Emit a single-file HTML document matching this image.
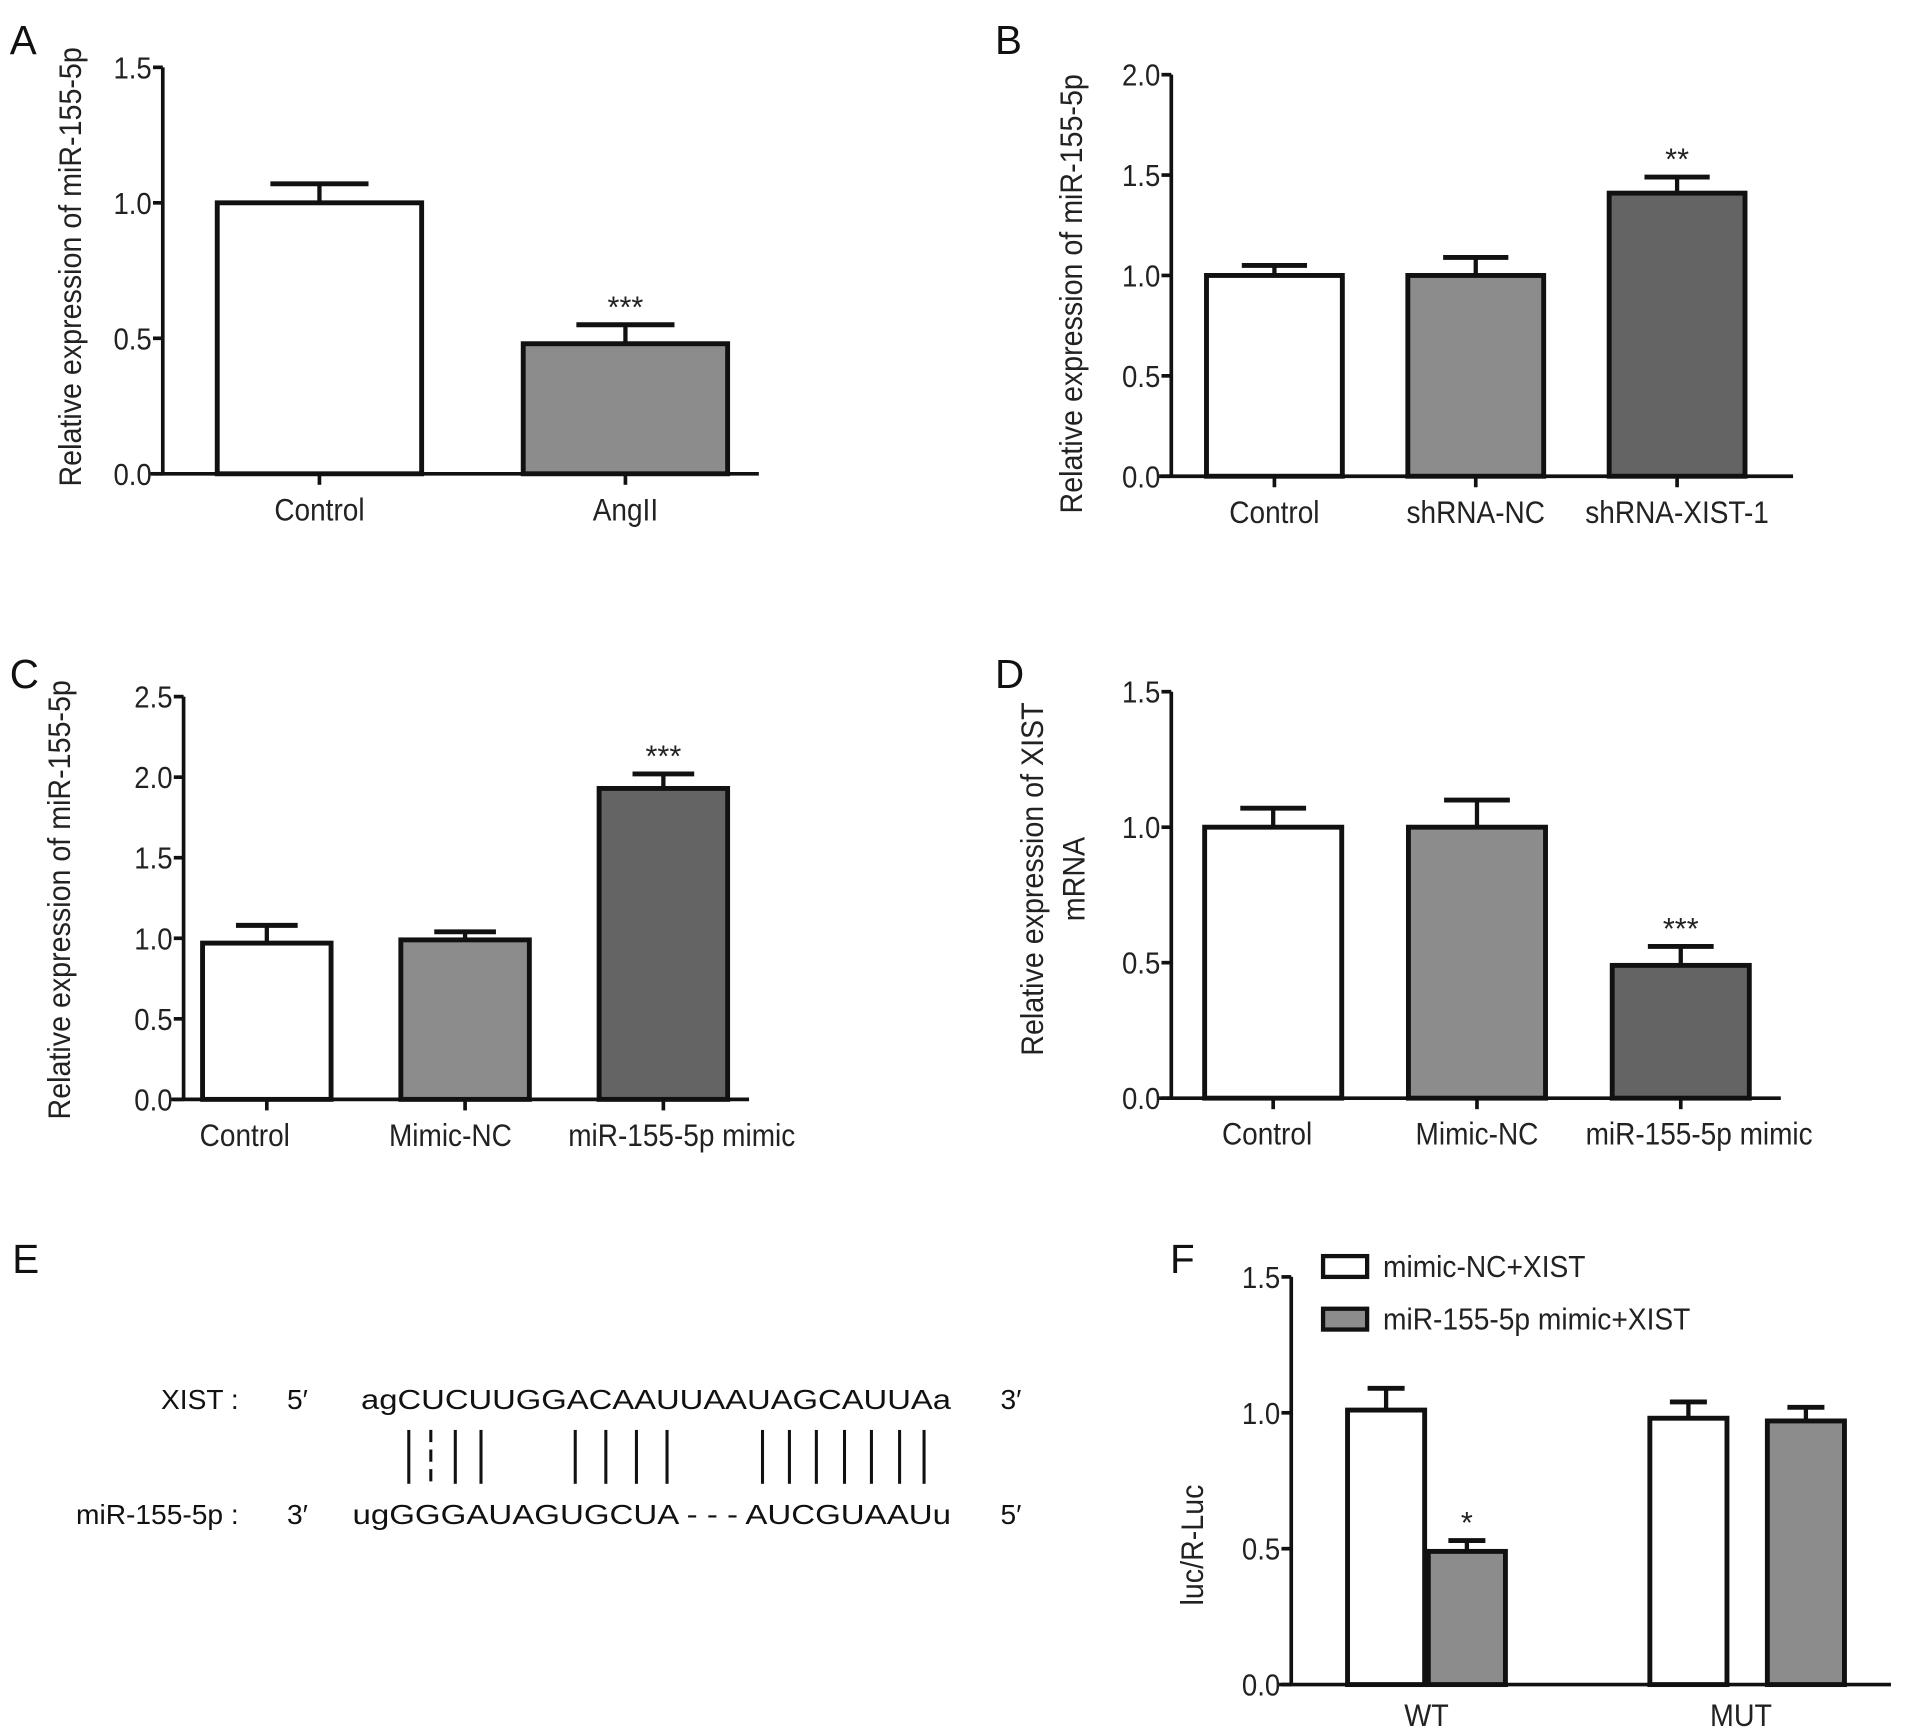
<!DOCTYPE html>
<html><head><meta charset="utf-8">
<style>
html,body{margin:0;padding:0;background:#fff;}
svg{display:block;font-family:"Liberation Sans",Arial,sans-serif;}
</style></head>
<body>
<svg id="fig" width="1913" height="1736" viewBox="0 0 1563 1418" preserveAspectRatio="none" xmlns="http://www.w3.org/2000/svg">
<g id="panelE" font-size="23" fill="#111">
  <text x="10" y="1040" font-size="33">E</text>
  <text x="195" y="1151" text-anchor="end">XIST :</text>
  <text x="243" y="1151" text-anchor="middle">5′</text>
  <text x="295" y="1151" textLength="482" lengthAdjust="spacingAndGlyphs">agCUCUUGGACAAUUAAUAGCAUUAa</text>
  <text x="826" y="1151" text-anchor="middle">3′</text>
  <text x="195" y="1245" text-anchor="end">miR-155-5p :</text>
  <text x="243" y="1245" text-anchor="middle">3′</text>
  <text x="288" y="1245" textLength="489" lengthAdjust="spacingAndGlyphs">ugGGGAUAGUGCUA - - - AUCGUAAUu</text>
  <text x="826" y="1245" text-anchor="middle">5′</text>
  <g id="pairs" stroke="#111" stroke-width="2.5"></g>
</g>
</svg>
<script>
// ---- data ----
const aCats = ["Control", "AngII"];
const aVals = [1.0, 0.48];
const aErrs = [0.07, 0.07];
const aStars = ["", "***"];
const aTicks = ["0.0", "0.5", "1.0", "1.5"];

const bCats = ["Control", "shRNA-NC", "shRNA-XIST-1"];
const bVals = [1.0, 1.0, 1.41];
const bErrs = [0.05, 0.09, 0.08];
const bStars = ["", "", "**"];
const bTicks = ["0.0", "0.5", "1.0", "1.5", "2.0"];

const cCats = ["Control", "Mimic-NC", "miR-155-5p mimic"];
const cVals = [0.97, 0.99, 1.93];
const cErrs = [0.11, 0.05, 0.09];
const cStars = ["", "", "***"];
const cTicks = ["0.0", "0.5", "1.0", "1.5", "2.0", "2.5"];

const dCats = ["Control", "Mimic-NC", "miR-155-5p mimic"];
const dVals = [1.0, 1.0, 0.49];
const dErrs = [0.07, 0.1, 0.07];
const dStars = ["", "", "***"];
const dTicks = ["0.0", "0.5", "1.0", "1.5"];

const fGroups = ["WT", "MUT"];
const fSeries = ["mimic-NC+XIST", "miR-155-5p mimic+XIST"];
const fNC = [1.01, 0.98];
const fNCErr = [0.08, 0.06];
const fMimic = [0.49, 0.97];
const fMimicErr = [0.04, 0.05];
const fStars = ["*", ""];
const fTicks = ["0.0", "0.5", "1.0", "1.5"];

const fills = ["#ffffff", "#8c8c8c", "#646464"];
const NS = "http://www.w3.org/2000/svg";
const svg = document.getElementById("fig");

function mk(tag, attrs, parent, text) {
  const e = document.createElementNS(NS, tag);
  for (const k in attrs) e.setAttribute(k, attrs[k]);
  if (text !== undefined) e.textContent = text;
  (parent || svg).appendChild(e);
  return e;
}
function condense(t, f) {
  const L = t.getComputedTextLength();
  if (L > 0) {
    t.setAttribute("textLength", (L * f).toFixed(1));
    t.setAttribute("lengthAdjust", "spacingAndGlyphs");
  }
  return t;
}

function axes(g, cfg, y) {
  const ax = mk("line", {x1: cfg.ax, y1: cfg.yTop, x2: cfg.ax, y2: cfg.y0, stroke: "#111", "stroke-width": 3}, g);
  
  
  const xa = mk("line", {x1: cfg.ax - 10, y1: cfg.y0, x2: cfg.axR, y2: cfg.y0, stroke: "#111", "stroke-width": 3}, g);
  
  
  cfg.ticks.forEach(t => {
    const yy = y(parseFloat(t));
    const tk = mk("line", {x1: cfg.ax - 8, y1: yy, x2: cfg.ax, y2: yy, stroke: "#111", "stroke-width": 3}, g);
    
    
    const tl = mk("text", {x: cfg.ax - 9, y: yy + 9, "text-anchor": "end", "font-size": 25, fill: "#222"}, g, t);
    
    
    condense(tl, 0.9);
  });
  const lab = mk("text", {x: cfg.panelX, y: cfg.panelY, "font-size": 33, fill: "#111"}, g, cfg.letter);
  
  
  cfg.ylabel.forEach((line, i) => {
    const lx = cfg.ylabX + i * 34;
    const yl = mk("text", {x: lx, y: cfg.ylabY, "text-anchor": "middle", "font-size": 26, fill: "#222",
      transform: `rotate(-90 ${lx} ${cfg.ylabY})`}, g, line);
    
    
    condense(yl, 0.9);
  });
}

function bar(g, cx, w, v, e, fill, star, y) {
  const top = y(v), base = y(0);
  const r = mk("rect", {x: cx - w / 2, y: top, width: w, height: base - top, fill: fill, stroke: "#111", "stroke-width": 4}, g);
  
  
  const et = y(v + e), cw = w * 0.48;
  const el = mk("line", {x1: cx, y1: top, x2: cx, y2: et, stroke: "#111", "stroke-width": 3.5}, g);
  
  
  const ec = mk("line", {x1: cx - cw / 2, y1: et, x2: cx + cw / 2, y2: et, stroke: "#111", "stroke-width": 4}, g);
  
  
  if (star) {
    const s = mk("text", {x: cx, y: et - 6, "text-anchor": "middle", "font-size": 25, fill: "#222"}, g, star);
    
    
  }
}

function panel(cfg, cats, vals, errs, stars) {
  const g = mk("g", {});
  
  
  const maxT = parseFloat(cfg.ticks[cfg.ticks.length - 1]);
  const y = v => cfg.y0 - (v / maxT) * (cfg.y0 - cfg.yTop);
  axes(g, cfg, y);
  cats.forEach((c, i) => {
    const cx = cfg.start + (i + 0.5) * cfg.step;
    bar(g, cx, cfg.bw, vals[i], errs[i], fills[i], stars[i], y);
    const tk = mk("line", {x1: cx, y1: cfg.y0, x2: cx, y2: cfg.y0 + 9, stroke: "#111", "stroke-width": 3}, g);
    
    
    const lx = cx + (cfg.labShift ? cfg.labShift[i] : 0);
    const t = mk("text", {x: lx, y: cfg.y0 + 38, "text-anchor": "middle", "font-size": 26, fill: "#222"}, g, c);
    
    
    condense(t, 0.88);
  });
}

panel({name: "panel-a-chart", letter: "A", panelX: 8, panelY: 44, ax: 133, axR: 620, yTop: 55, y0: 387,
  ticks: aTicks, start: 136, step: 250, bw: 167, ylabel: ["Relative expression of miR-155-5p"], ylabX: 66, ylabY: 218},
  aCats, aVals, aErrs, aStars);
panel({name: "panel-b-chart", letter: "B", panelX: 813, panelY: 44, ax: 957, axR: 1465, yTop: 61, y0: 389,
  ticks: bTicks, start: 959, step: 164.5, bw: 111, ylabel: ["Relative expression of miR-155-5p"], ylabX: 884, ylabY: 240},
  bCats, bVals, bErrs, bStars);
panel({name: "panel-c-chart", letter: "C", panelX: 8, panelY: 562, ax: 150, axR: 612, yTop: 569, y0: 898,
  ticks: cTicks, start: 137, step: 162, bw: 105, ylabel: ["Relative expression of miR-155-5p"], ylabX: 57, ylabY: 735,
  labShift: [-18, -12, 15]},
  cCats, cVals, cErrs, cStars);
panel({name: "panel-d-chart", letter: "D", panelX: 813, panelY: 562, ax: 957, axR: 1455, yTop: 565, y0: 897,
  ticks: dTicks, start: 957, step: 166.5, bw: 112, ylabel: ["Relative expression of XIST", "mRNA"], ylabX: 852, ylabY: 718,
  labShift: [-5, 0, 15]},
  dCats, dVals, dErrs, dStars);

// Panel F grouped
(function () {
  const cfg = {letter: "F", panelX: 956, panelY: 1040, ax: 1055, axR: 1545, yTop: 1043, y0: 1376,
    ticks: fTicks, ylabel: ["luc/R-Luc"], ylabX: 983, ylabY: 1262};
  const g = mk("g", {});
  
  
  const maxT = parseFloat(fTicks[fTicks.length - 1]);
  const y = v => cfg.y0 - (v / maxT) * (cfg.y0 - cfg.yTop);
  axes(g, cfg, y);
  const start = 1042, step = 247, bw = 63;
  fGroups.forEach((grp, i) => {
    const gc = start + (i + 0.5) * step;
    bar(g, gc - 33, bw, fNC[i], fNCErr[i], fills[0], "", y);
    bar(g, gc + 33 + (i === 1 ? 30 : 0), bw, fMimic[i], fMimicErr[i], fills[1], fStars[i], y);
    const t = mk("text", {x: gc + (i === 1 ? 10 : 0), y: cfg.y0 + 34, "text-anchor": "middle", "font-size": 26, fill: "#222"}, g, grp);
    
    
    condense(t, 0.9);
  });
  fSeries.forEach((s, i) => {
    const ly = 1034 + i * 43;
    const r = mk("rect", {x: 1081, y: ly - 8, width: 36, height: 17, fill: fills[i], stroke: "#111", "stroke-width": 3.5}, g);
    
    
    const t = mk("text", {x: 1130, y: ly + 9, "font-size": 25, fill: "#222"}, g, s);
    
    
    condense(t, 0.92);
  });
})();

// base-pair lines for panel E
const pairXs = [334, 352, 372, 393, 470, 495, 520, 545, 623, 645, 667, 690, 712, 735, 755];
const pg = document.getElementById("pairs");
pairXs.forEach((x, i) => {
  const l = mk("line", {x1: x, y1: 1168, x2: x, y2: 1212}, pg);
  if (i === 1) l.setAttribute("stroke-dasharray", "10 6");
  
  
});
</script>
</body></html>
